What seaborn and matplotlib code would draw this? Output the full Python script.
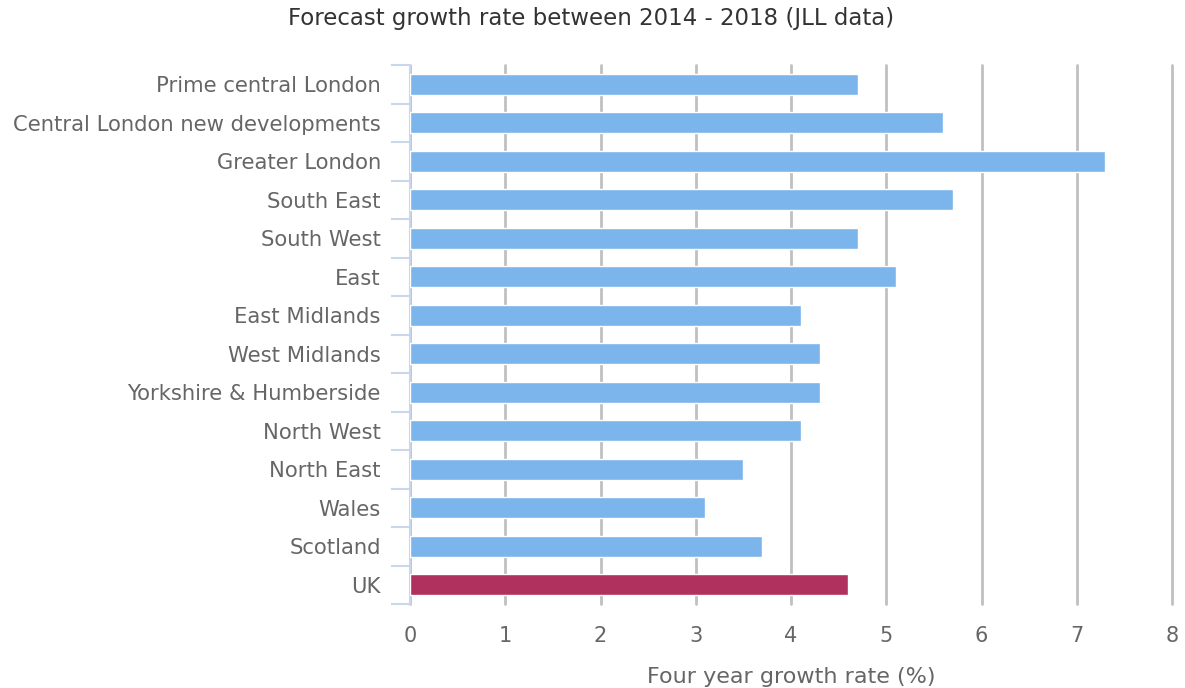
import matplotlib
matplotlib.use("Agg")
import matplotlib.pyplot as plt
import seaborn as sns
import pandas as pd

categories = ["Prime central London", "Central London new developments", "Greater London",
              "South East", "South West", "East", "East Midlands", "West Midlands",
              "Yorkshire & Humberside", "North West", "North East", "Wales", "Scotland", "UK"]
values = [4.7, 5.6, 7.3, 5.7, 4.7, 5.1, 4.1, 4.3, 4.3, 4.1, 3.5, 3.1, 3.7, 4.6]
groups = ["region"] * 13 + ["uk"]
x_ticks = [0, 1, 2, 3, 4, 5, 6, 7, 8]

sns.set_theme(style="white")
plt.rcParams['font.family'] = ['DejaVu Sans']

df = pd.DataFrame({"category": categories, "value": values, "group": groups})

fig = plt.figure(figsize=(11.85, 6.88), dpi=100)
ax = fig.add_axes([410/1185, 1 - 604/688, (1172-410)/1185, (604-65)/688])

sns.barplot(data=df, y="category", x="value", hue="group", orient="h",
            palette={"region": "#7cb5ec", "uk": "#b0305e"}, dodge=False, saturation=1,
            width=0.54, edgecolor="white", linewidth=1, legend=False, ax=ax, zorder=3)

ax.set_xlim(0, 8)
ax.set_ylim(13.5, -0.5)
ax.set_xticks(x_ticks)
ax.set_xticklabels([str(t) for t in x_ticks])
ax.xaxis.grid(True, color="#c0c0c0", linewidth=2, zorder=0)
for gl in ax.get_xgridlines():
    gl.set_clip_on(False)
ax.set_axisbelow(True)

for s in ["top", "right", "bottom"]:
    ax.spines[s].set_visible(False)
ax.spines["left"].set_color("#ccd6eb")
ax.spines["left"].set_linewidth(1.5)

ax.set_yticks([i for i in range(len(categories))])
ax.set_yticklabels(categories)
ax.tick_params(axis="y", which="major", left=False, length=0, pad=21, labelsize=15.2, labelcolor="#666666")
ax.set_yticks([i - 0.5 for i in range(len(categories) + 1)], minor=True)
ax.tick_params(axis="y", which="minor", left=True, length=14, color="#ccd6eb", width=1.5)
ax.tick_params(axis="x", length=0, pad=16, labelsize=15, labelcolor="#666666")

ax.set_ylabel("")
ax.set_xlabel("Four year growth rate (%)", fontsize=16, color="#666666")
ax.xaxis.set_label_coords(0.5, -0.135)
ax.xaxis.label.set_va("center")
fig.text(591/1185, 1 - 18/688, "Forecast growth rate between 2014 - 2018 (JLL data)",
         ha="center", va="center", fontsize=16.5, color="#333333")

fig.savefig("out.png", dpi=100)
